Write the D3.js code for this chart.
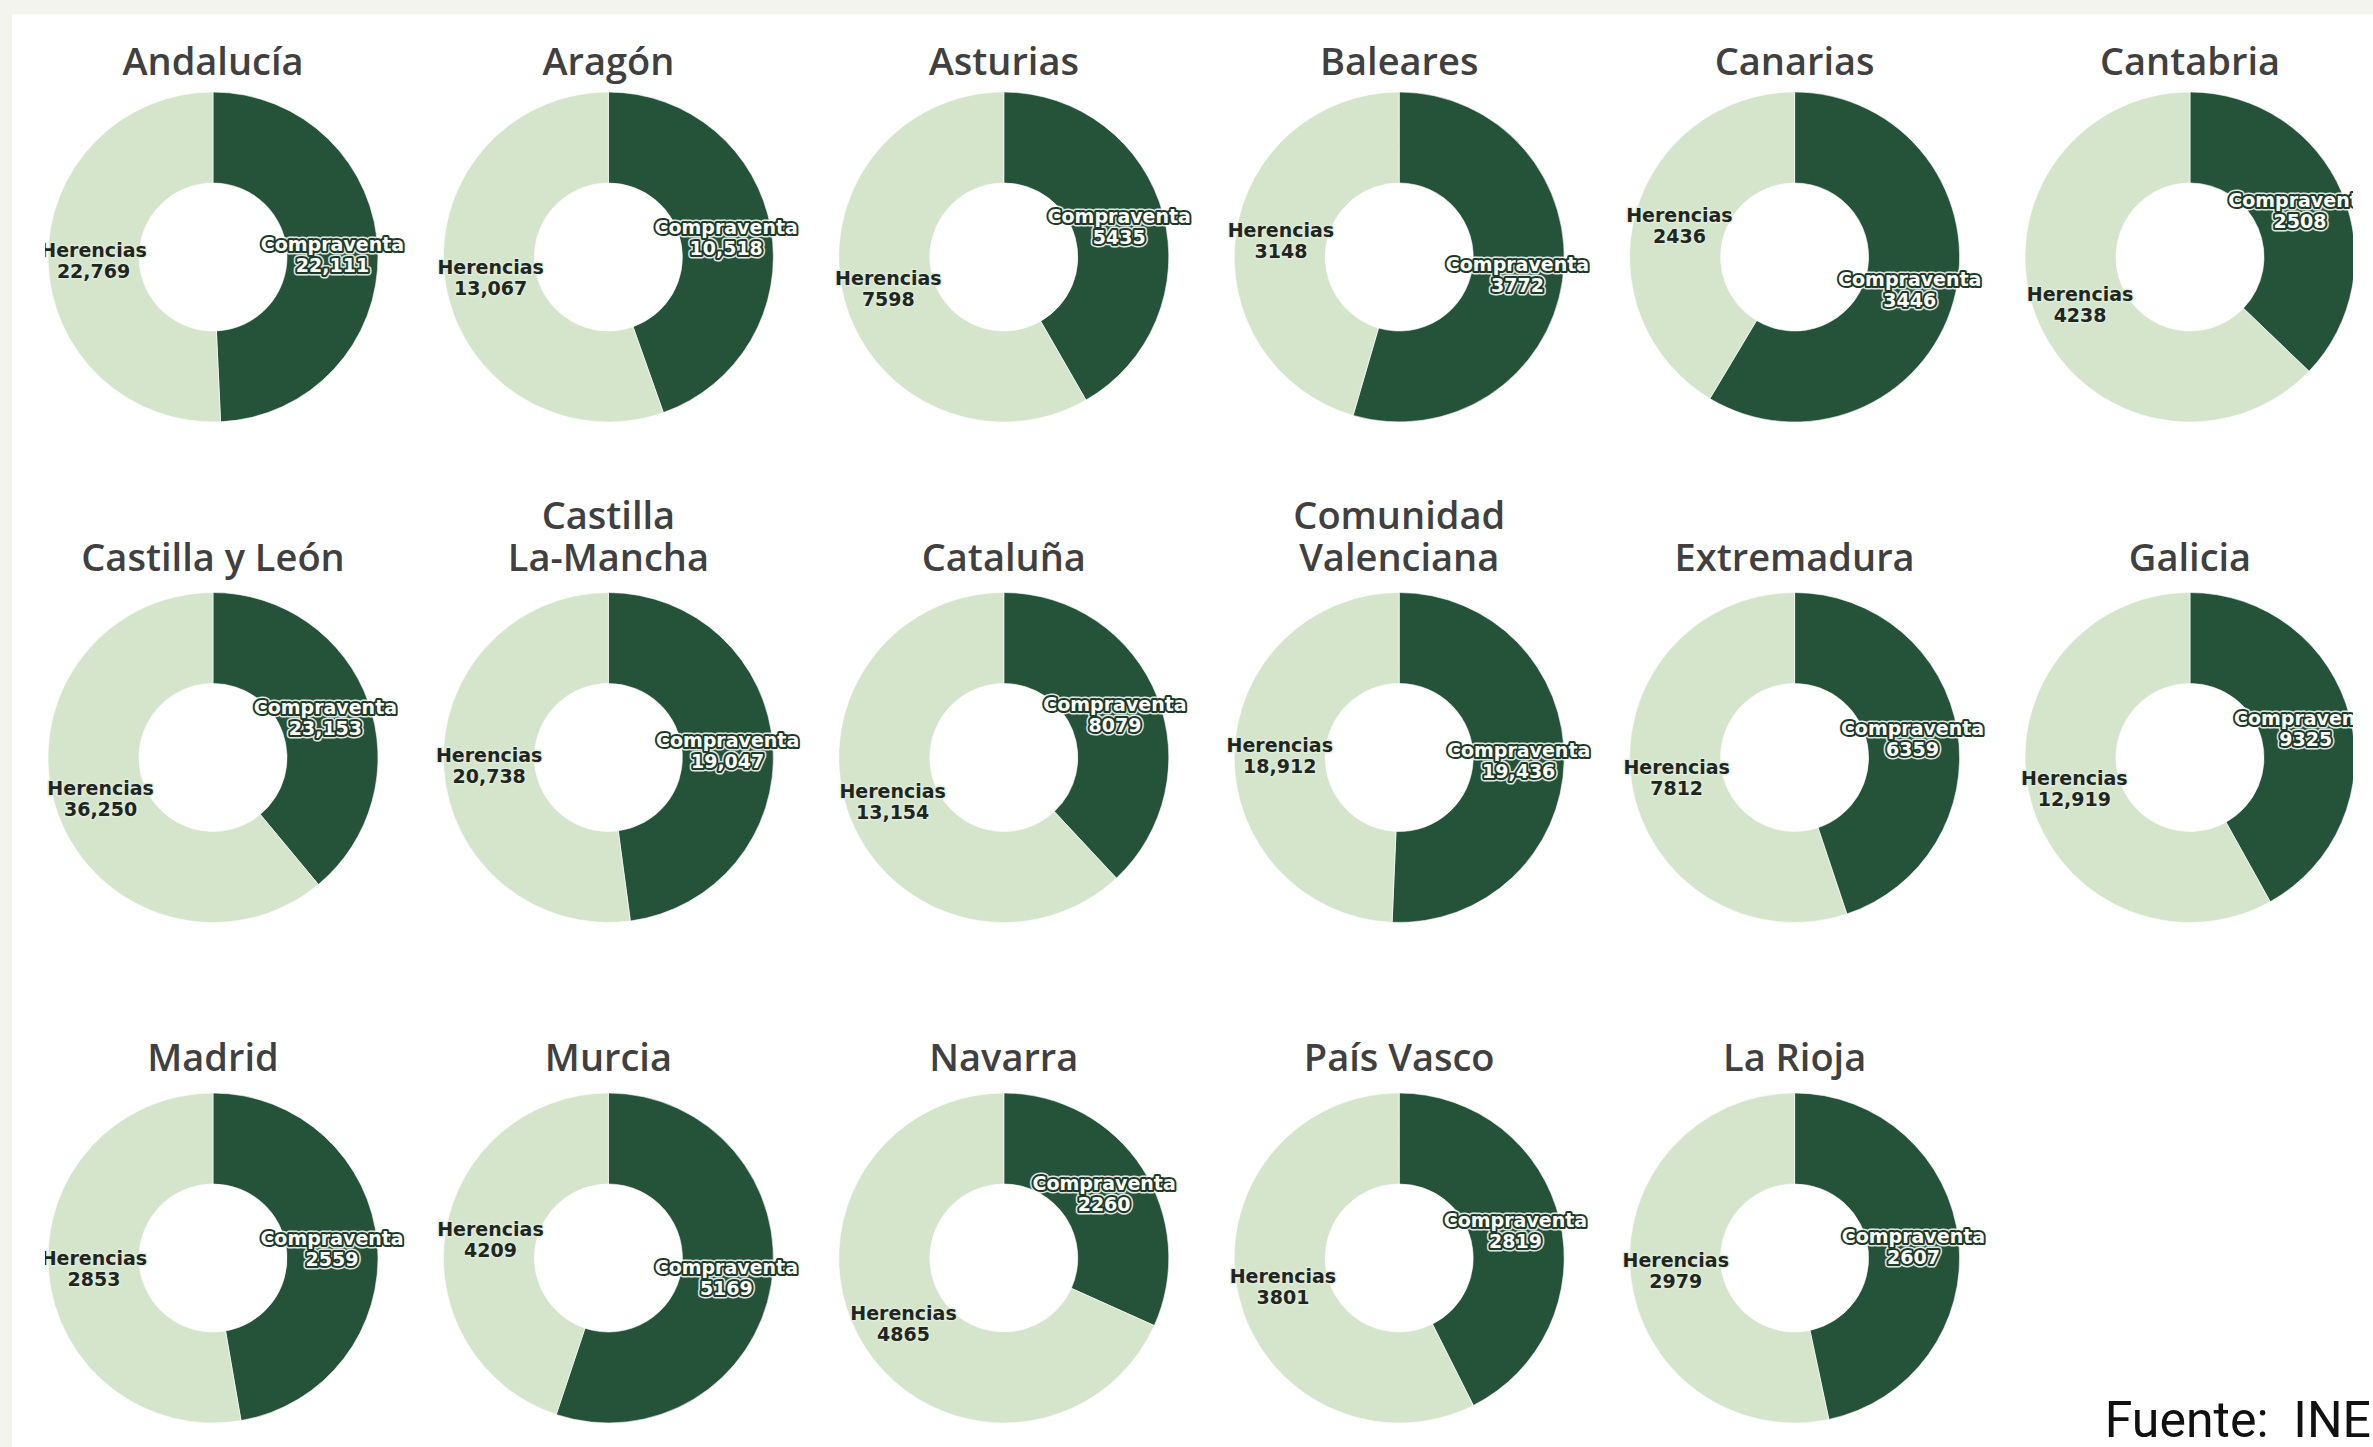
<!DOCTYPE html>
<html>
<head>
<meta charset="utf-8">
<script src="https://cdn.jsdelivr.net/npm/d3@7"></script>
<style>
  html, body { margin: 0; padding: 0; background: #f4f4ef; }
  svg { display: block; }
</style>
</head>
<body>
<svg id="chart" width="2373" height="1447"></svg>
<script>
// ---- data ----
const regions = [
  "Andalucía", "Aragón", "Asturias", "Baleares", "Canarias", "Cantabria",
  "Castilla y León", "Castilla\nLa-Mancha", "Cataluña", "Comunidad\nValenciana", "Extremadura", "Galicia",
  "Madrid", "Murcia", "Navarra", "País Vasco", "La Rioja"
];
const compraventa = [22111, 10518, 5435, 3772, 3446, 2508, 23153, 19047, 8079, 19436, 6359, 9325, 2559, 5169, 2260, 2819, 2607];
const herencias   = [22769, 13067, 7598, 3148, 2436, 4238, 36250, 20738, 13154, 18912, 7812, 12919, 2853, 4209, 4865, 3801, 2979];
const seriesNames = ["Compraventa", "Herencias"];
const sourceText = "Fuente:  INE";

// ---- layout ----
const W = 2373, H = 1447;
const svg = d3.select("#chart");
const colors = d3.scaleOrdinal().domain(seriesNames).range(["#25533a", "#d4e5cc"]);
const xPos = d3.scaleLinear().domain([0, 5]).range([213, 2190]);
const yPos = d3.scaleLinear().domain([0, 2]).range([257, 1258]);
const titleShift = [5, 0, 0];
const outerR = 165, innerR = 74;

svg.append("rect").attr("x", 0).attr("y", 0).attr("width", W).attr("height", H).attr("fill", "#f4f4ef");
svg.append("rect").attr("x", 12).attr("y", 14).attr("width", W - 12).attr("height", H - 14).attr("fill", "#ffffff");

svg.append("defs").append("clipPath").attr("id", "plotclip")
  .append("rect").attr("x", 45).attr("y", 0).attr("width", 2353 - 45).attr("height", H);

const plot = svg.append("g").attr("clip-path", "url(#plotclip)");

const pie = d3.pie().sort(null).value(d => d.value);
const arc = d3.arc().innerRadius(innerR).outerRadius(outerR);
const fmt = v => v >= 10000 ? d3.format(",")(v) : String(v);

regions.forEach((name, i) => {
  const row = Math.floor(i / 6);
  const cx = xPos(i % 6), cy = yPos(row);
  const g = plot.append("g").attr("transform", `translate(${cx},${cy})`);
  const data = [
    { key: "Compraventa", value: compraventa[i] },
    { key: "Herencias", value: herencias[i] }
  ];
  const arcs = pie(data);
  g.selectAll("path").data(arcs).join("path")
    .attr("d", arc)
    .attr("fill", d => colors(d.data.key))
    .attr("stroke", "#ffffff").attr("stroke-width", 0.6);

  // title
  const lines = name.split("\n");
  const title = g.append("text")
    .attr("text-anchor", "middle")
    .attr("font-family", "'Open Sans', sans-serif")
    .attr("font-weight", 600)
    .attr("font-size", 38)
    .attr("fill", "#404040");
  lines.forEach((ln, k) => {
    title.append("tspan").attr("x", 0)
      .attr("y", -187 + titleShift[row] - (lines.length - 1 - k) * 42)
      .text(ln);
  });

  // labels
  arcs.forEach(a => {
    const [lx, ly] = arc.centroid(a);
    const isC = a.data.key === "Compraventa";
    const texts = [a.data.key, fmt(a.data.value)];
    const layers = isC
      ? [{ stroke: "#ffffff", sw: 7, op: 0.85 }, { stroke: "#1c3a27", sw: 4, op: 1 }, { stroke: "none", sw: 0, op: 1 }]
      : [{ stroke: "#e2eedd", sw: 3, op: 0.8 }, { stroke: "none", sw: 0, op: 1 }];
    layers.forEach(L => {
      const t = g.append("text")
        .attr("text-anchor", "middle")
        .attr("font-family", "'DejaVu Sans', sans-serif")
        .attr("font-weight", "bold")
        .attr("font-size", 19)
        .attr("fill", L.stroke === "none" ? (isC ? "#ffffff" : "#1f261f") : L.stroke)
        .attr("stroke", L.stroke)
        .attr("stroke-width", L.sw)
        .attr("stroke-linejoin", "round")
        .attr("opacity", L.op);
      texts.forEach((tx, k) => {
        t.append("tspan").attr("x", lx).attr("y", ly - 3 + k * 21).text(tx);
      });
    });
  });
});

svg.append("text")
  .attr("x", W - 2).attr("y", 1437)
  .attr("text-anchor", "end")
  .attr("font-family", "Roboto, sans-serif")
  .attr("font-size", 50)
  .attr("fill", "#111111")
  .attr("xml:space", "preserve")
  .style("white-space", "pre")
  .text(sourceText);
</script>
</body>
</html>
